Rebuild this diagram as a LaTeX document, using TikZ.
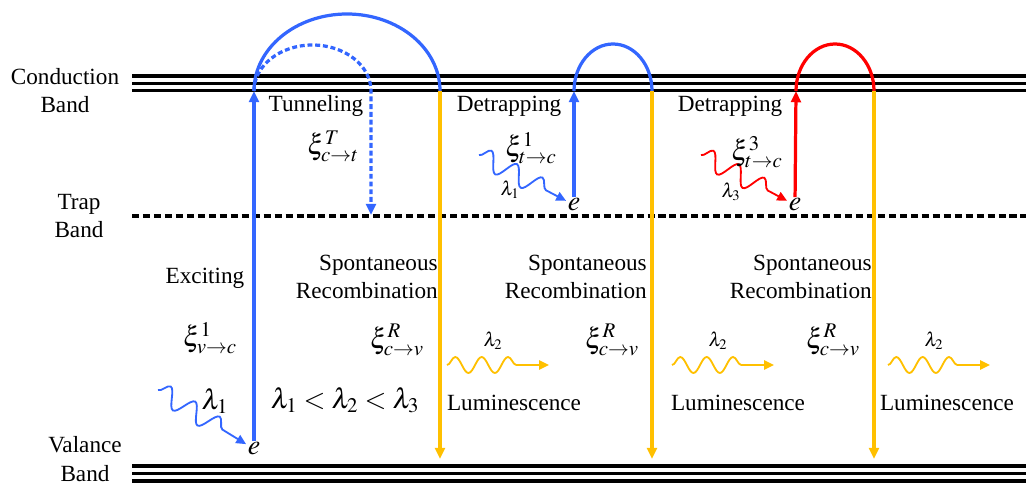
\documentclass[tikz,border=0pt]{standalone}
\usepackage{mathptmx}
\usepackage{fontspec}
\setmainfont{Liberation Serif}
\usetikzlibrary{arrows.meta, decorations.pathmorphing, calc}
\definecolor{lmBlue}{HTML}{3366FF}
\definecolor{lmYellow}{HTML}{FFC000}
\definecolor{lmRed}{HTML}{FF0000}
\tikzset{
  band/.style={line width=2.3pt},
  trans/.style={line width=2.3pt},
  tipped/.style={-{Triangle[length=8pt,width=7pt]}},
  lbl/.style={font=\fontsize{16.5}{20}\selectfont, inner sep=0pt},
  mth/.style={font=\fontsize{20}{24}\selectfont, inner sep=0pt},
  sml/.style={font=\fontsize{14}{16}\selectfont, inner sep=0pt},
  elec/.style={font=\fontsize{20}{24}\selectfont, inner sep=1pt},
  photon/.style={line width=1.3pt, -{Triangle[length=7pt,width=6.5pt]}, decorate,
    decoration={snake, segment length=0.72cm, amplitude=0.24cm, post length=0.45cm}},
  emission/.style={line width=1.3pt, -{Triangle[length=7pt,width=6.5pt]}, decorate,
    decoration={snake, segment length=0.66cm, amplitude=0.2cm, post length=0.58cm}}
}
\begin{document}
\begin{tikzpicture}[x=0.025cm, y=-0.025cm]
  \useasboundingbox (0,0) rectangle (1026,485);
  % bands — three lines for conduction and valence, dashed trap band
  \foreach \y in {76,83.3,90.7,466,473.5,481}{\draw[band] (132,\y) -- (1026,\y);}
  \draw[line width=2.2pt, dash pattern=on 5pt off 2.8pt] (132,216) -- (1026,216);
  \node[lbl, align=center] (cbname) at (65,91) {Conduction\\Band};
  \node[lbl, align=center] (tbname) at (79,216) {Trap\\Band};
  \node[lbl, align=center] (vbname) at (85,459) {Valance\\Band};

  % electrons and band points
  \node[elec] (e1) at (254,449) {$e$};
  \node[elec] (e2) at (574,205) {$e$};
  \node[elec] (e3) at (795,205) {$e$};
  \coordinate (cb1) at (254,91);  \coordinate (cr1) at (440,91);
  \coordinate (cb2) at (574,91);  \coordinate (cr2) at (652,91);
  \coordinate (cb3) at (796,91);  \coordinate (cr3) at (874,91);
  \coordinate (tb1) at (371,215);
  \foreach \k in {1,2,3}{\coordinate (vb\k) at ($(cr\k)+(0,368)$);}

  % exciting + tunneling
  \draw[trans, lmBlue, tipped] (e1) -- (cb1);
  \draw[trans, lmBlue] (cb1) arc[start angle=180, end angle=360, x radius=93, y radius=77];
  \draw[trans, lmBlue, tipped, dash pattern=on 3.5pt off 2pt]
    (cb1) arc[start angle=180, end angle=360, x radius=58.5, y radius=46] -- (tb1);
  % detrapping
  \draw[trans, lmBlue, tipped] (e2) -- (cb2);
  \draw[trans, lmBlue] (cb2) arc[start angle=180, end angle=360, x radius=39, y radius=47];
  \draw[trans, lmRed, tipped] (e3) -- (cb3);
  \draw[trans, lmRed] (cb3) arc[start angle=180, end angle=360, x radius=39, y radius=47];
  % spontaneous recombination
  \foreach \k in {1,2,3}{\draw[trans, lmYellow, tipped] (cr\k) -- (vb\k);}

  % absorbed photons
  \coordinate (ph1) at (158,390);
  \coordinate (ph2) at (479,155);
  \coordinate (ph3) at (701,155);
  \draw[photon, lmBlue] (ph1) -- (e1);
  \draw[photon, lmBlue] (ph2) -- (e2);
  \draw[photon, lmRed] (ph3) -- (e3);

  % emitted photons
  \foreach \x/\lx/\k in {447/514/1, 672/738/2, 888/947/3}{
    \coordinate (ls\k) at (\x,365);
    \coordinate (le\k) at (\x+102,365);
    \draw[emission, lmYellow] (ls\k) -- (le\k);
    \node[sml] (lamtwo\k) at (\x+46,341) {$\lambda_2$};
    \node[lbl] (lum\k) at (\lx,403) {Luminescence};
  }

  % recombination labels
  \foreach \r/\xc/\k in {438/397/1, 647/612/2, 872/833/3}{
    \node[lbl, align=right, anchor=east] (spr\k) at (\r,277) {Spontaneous\\Recombination};
    \node[mth] (xir\k) at (\xc,340) {$\xi^{R}_{c\rightarrow v}$};
  }

  % remaining labels
  \node[lbl] (tun) at (316,106) {Tunneling};
  \node[mth] (xit) at (333,146) {$\xi^{T}_{c\rightarrow t}$};
  \node[lbl] (det1) at (509,106) {Detrapping};
  \node[mth] (xid1) at (531,148) {$\xi^{1}_{t\rightarrow c}$};
  \node[sml] (lamone2) at (510,190) {$\lambda_1$};
  \node[lbl] (det2) at (730,106) {Detrapping};
  \node[mth] (xid3) at (757,152) {$\xi^{3}_{t\rightarrow c}$};
  \node[sml] (lamthree) at (731,192) {$\lambda_3$};
  \node[lbl] (exc) at (205,278) {Exciting};
  \node[mth] (xie) at (210,338) {$\xi^{1}_{v\rightarrow c}$};
  \node[mth] (lamone1) at (215,401) {$\lambda_1$};
  \node[mth] (order) at (345,400) {$\lambda_1<\lambda_2<\lambda_3$};
\end{tikzpicture}
\end{document}
